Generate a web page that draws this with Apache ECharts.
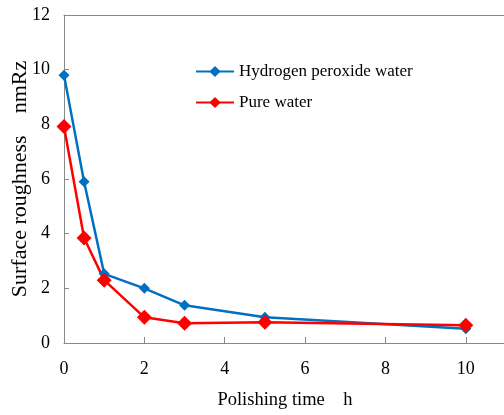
<!DOCTYPE html>
<html>
<head>
<meta charset="utf-8">
<script src="https://cdn.jsdelivr.net/npm/echarts@6/dist/echarts.min.js"></script>
<style>
  html, body { margin: 0; padding: 0; background: #fff; }
  #main { width: 504px; height: 415px; }
</style>
</head>
<body>
<div id="main"></div>
<script>
// polishing time (h)
var hours = [0, 0.5, 1, 2, 3, 5, 10];
// surface roughness nmRz
var peroxide = [9.8, 5.9, 2.53, 2.0, 1.38, 0.94, 0.52];
var pure = [7.92, 3.84, 2.3, 0.94, 0.72, 0.76, 0.65];
var xTicks = [0, 2, 4, 6, 8, 10];
var yTicks = [0, 2, 4, 6, 8, 10, 12];

function pairs(ys) {
  return hours.map(function (h, i) { return [h, ys[i]]; });
}

var font = 'Liberation Serif';
var axisGray = '#888888';

var chart = echarts.init(document.getElementById('main'));
chart.setOption({
  animation: false,
  grid: {
    left: 64, right: -2, top: 15, bottom: 72,
    outerBoundsMode: 'none', containLabel: false
  },
  legend: {
    left: 190, top: 58, orient: 'vertical',
    itemGap: 14, itemWidth: 38, itemHeight: 14,
    textStyle: { fontFamily: font, fontSize: 17, color: '#000' },
    data: ['Hydrogen peroxide water', 'Pure water']
  },
  xAxis: [{
    type: 'value', min: 0, max: 11, interval: 2,
    name: 'Polishing time    h', nameLocation: 'middle', nameGap: 48,
    nameMoveOverlap: false,
    nameTextStyle: { fontFamily: font, fontSize: 18.5, color: '#000' },
    axisLine: { lineStyle: { color: axisGray } },
    axisTick: { inside: true, length: 6, lineStyle: { color: axisGray } },
    splitLine: { show: false },
    axisLabel: {
      fontFamily: font, fontSize: 18, color: '#000', margin: 17,
      formatter: function (v) { return xTicks.indexOf(v) >= 0 ? String(v) : ''; }
    }
  }, {
    // top frame line only
    type: 'value', position: 'top', min: 0, max: 11,
    axisLine: { show: true, lineStyle: { color: axisGray } },
    axisTick: { show: false }, axisLabel: { show: false }, splitLine: { show: false }
  }],
  yAxis: {
    type: 'value', min: 0, max: 12, interval: 2,
    name: 'Surface roughness    nmRz', nameLocation: 'middle', nameGap: 33,
    nameMoveOverlap: false,
    nameTextStyle: { fontFamily: font, fontSize: 22, color: '#000' },
    axisLine: { show: true, lineStyle: { color: axisGray } },
    axisTick: { show: true, inside: true, length: 5, lineStyle: { color: axisGray } },
    splitLine: { show: false },
    axisLabel: {
      fontFamily: font, fontSize: 18, color: '#000', margin: 14,
      formatter: function (v) { return yTicks.indexOf(v) >= 0 ? String(v) : ''; }
    }
  },
  series: [
    {
      name: 'Hydrogen peroxide water',
      type: 'line',
      data: pairs(peroxide),
      symbol: 'diamond', symbolSize: 11,
      color: '#0070c0',
      lineStyle: { width: 2.5, color: '#0070c0' },
      itemStyle: { color: '#0070c0' }
    },
    {
      name: 'Pure water',
      type: 'line',
      data: pairs(pure),
      symbol: 'diamond', symbolSize: 15,
      color: '#ff0000',
      lineStyle: { width: 2.5, color: '#ff0000' },
      itemStyle: { color: '#ff0000' }
    }
  ]
});
</script>
</body>
</html>
